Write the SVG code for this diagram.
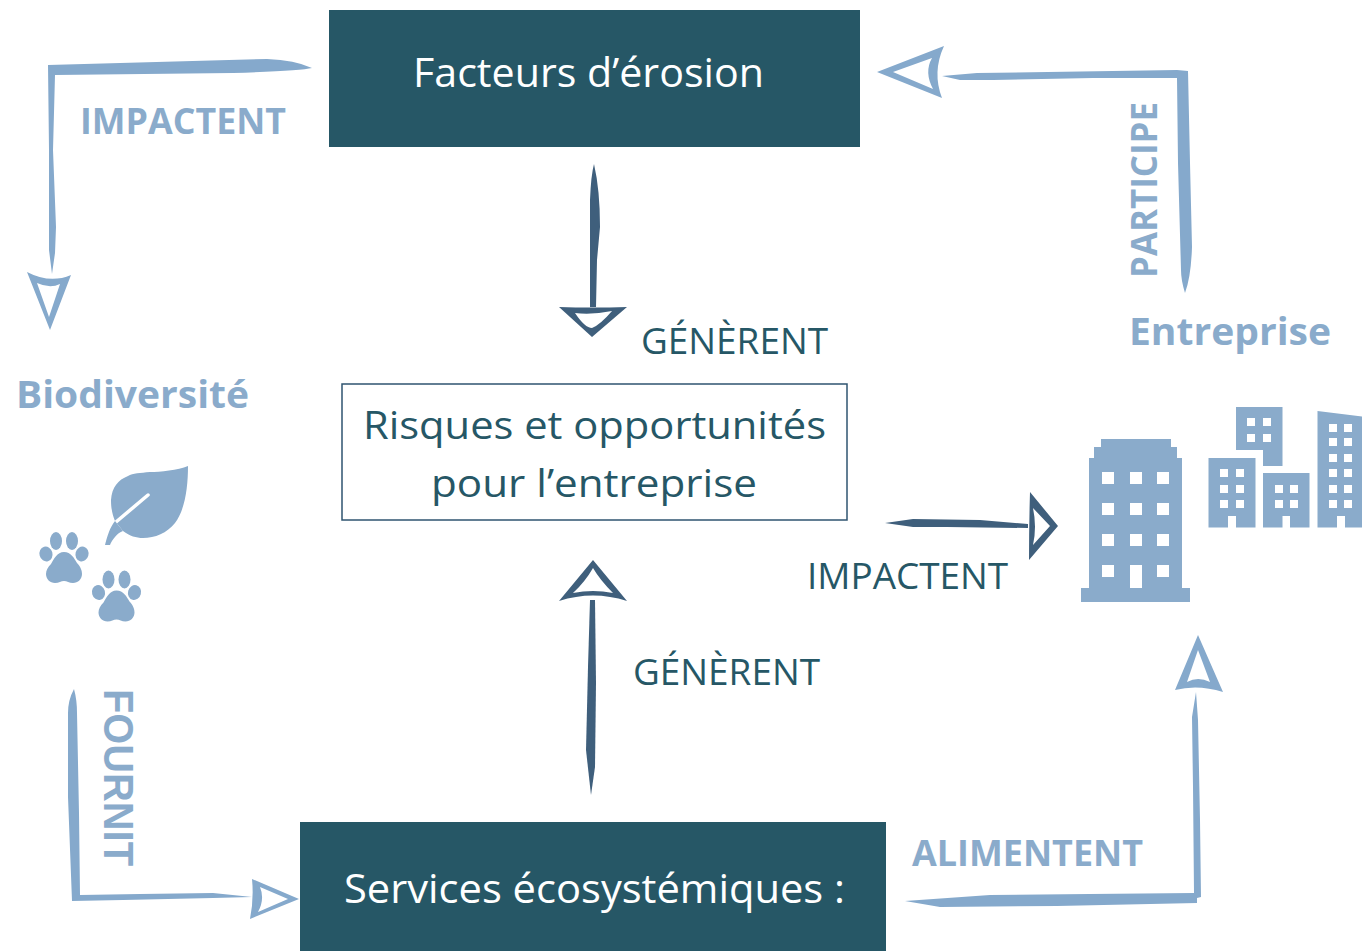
<svg xmlns="http://www.w3.org/2000/svg" xmlns:xlink="http://www.w3.org/1999/xlink" width="1362" height="951" viewBox="0 0 1362 951">
<style>
text{font-family:"Open Sans","Noto Sans",sans-serif}
.box{fill:#265766}
.wt{fill:#fff;font-size:41px}
.dk{fill:#265766;font-size:38px}
.lb{fill:#8aabcb;font-weight:700;font-size:36px}
.ic{fill:#8aabcb}
.w{fill:#fff}
.al{fill:#85a9cc;fill-rule:evenodd}
.ad{fill:#3f5f7c;fill-rule:evenodd}
</style>
<defs>
<g id="paw" class="ic">
<ellipse cx="56" cy="541" rx="6" ry="9"/><ellipse cx="72" cy="541" rx="6" ry="9"/>
<ellipse cx="46" cy="554" rx="6.5" ry="7.5" transform="rotate(-15 46 554)"/><ellipse cx="82" cy="554" rx="6.5" ry="7.5" transform="rotate(15 82 554)"/>
<path d="M64 552C71 552 74 558 77 563C81 567 82 571 82 574C82 579 78 583 73 583C69 583 67 581 64 581C61 581 59 583 55 583C50 583 46 579 46 574C46 570 48 567 51 564C54 559 57 552 64 552Z"/>
</g>
</defs>
<rect width="1362" height="951" fill="#fff"/>
<g id="connectors">
<path class="al" d="M48 65L267 59Q295 60 312 68Q300 71 233 73L55 75L53 150L56 227L55 253L52 274L49 250L49 150Z"/>
<path class="al" d="M27 272Q50 284 71 275L50 330ZM37 283L49 317L60 284Q50 289 37 283Z"/>
<path class="al" d="M942 76L977 73L1177 70L1188 71L1190 163L1192 247Q1191 277 1185 293Q1181 280 1181 270L1178 163L1177 78L1093 78L993 80L960 80Z"/>
<path class="al" d="M877 72L944 46Q932 72 942 98ZM893 72L933 89Q924 72 932 58Z"/>
<path class="ad" d="M594 164Q600 190 600 227L597 260L596 307L590 307L590 260L590 200Q591 175 594 164Z"/>
<path class="ad" d="M559 307Q592 308 627 307L592 337ZM575 313Q585 328 592 328Q600 325 612 311Q592 315 575 313Z"/>
<path class="ad" d="M593 560L627 601Q593 590 559 601ZM573 593Q593 589 613 593Q600 580 593 568Q585 582 573 593Z"/>
<path class="ad" d="M590 600L595 600L596 683L595 767L591 795L586 750L588 667Z"/>
<path class="ad" d="M885 523L913 519L980 520L1028 524L1028 528L947 527L913 527Z"/>
<path class="ad" d="M1030 492L1058 526L1029 560Q1029 526 1030 492ZM1033 508Q1037 527 1033 545L1050 526Z"/>
<path class="al" d="M74 689Q68 700 68 713L68 797L72 901L123 900L213 898L252 897L213 893L140 894L80 895L79 813L77 713Q77 700 74 689Z"/>
<path class="al" d="M252 879L299 899L250 919Q254 899 252 879ZM260 887Q265 899 258 912L288 899Z"/>
<path class="al" d="M1196 692L1192 717L1193 787L1194 893L1090 894L990 895L905 901L940 907L1057 906L1197 903L1197 898L1201 897L1200 820L1198 720Z"/>
<path class="al" d="M1198 635L1223 692Q1198 684 1175 690ZM1198 650L1187 682Q1198 676 1210 682Z"/>
</g>
<g id="node-facteurs"><rect class="box" x="329" y="10" width="531" height="137"/><text class="wt" x="413" y="87" textLength="351" lengthAdjust="spacingAndGlyphs">Facteurs d’érosion</text></g>
<g id="node-risques"><rect x="342" y="384" width="505" height="136" fill="#fff" stroke="#2f5470" stroke-width="1.5"/>
<text class="dk" x="363" y="439" textLength="463" lengthAdjust="spacingAndGlyphs">Risques et opportunités</text>
<text class="dk" x="431" y="497" textLength="326" lengthAdjust="spacingAndGlyphs">pour l’entreprise</text></g>
<g id="node-services"><rect class="box" x="300" y="822" width="586" height="129"/><text class="wt" x="344" y="903" textLength="501" lengthAdjust="spacingAndGlyphs">Services écosystémiques :</text></g>
<g id="node-biodiversite">
<text class="lb" x="16" y="408" textLength="233" lengthAdjust="spacingAndGlyphs" style="font-size:38px">Biodiversité</text>
<path class="ic" d="M188 466C178 470 160 472 150 472C140 473 133 473 128 476C118 480 112 487 111 500C111 510 113 516 115 521L123 531C130 536 136 538 143 538C155 538 167 533 175 523C185 510 188 487 188 466Z"/>
<path d="M148 495L116 522" stroke="#fff" stroke-width="3.5" stroke-linecap="round" fill="none"/>
<path class="ic" d="M115 521L123 531C117 533 112 540 110 545L105 545C107 537 110 527 115 521Z"/>
<use xlink:href="#paw" href="#paw"/>
<use xlink:href="#paw" href="#paw" x="52.5" y="38.5"/>
</g>
<g id="node-entreprise">
<text class="lb" x="1129" y="345" textLength="202" lengthAdjust="spacingAndGlyphs" style="font-size:38px">Entreprise</text>
<g class="ic">
<path d="M1081 602V588H1089V458H1094V447H1101V439H1171V447H1177V458H1182V588H1190V602Z"/>
<path d="M1236 407H1282.5V466H1263V450H1236Z"/>
<path d="M1208.500 458H1255.500V527.500H1236V516H1228V527.500H1208.500Z"/>
<path d="M1263 473H1309.500V527.500H1290V516H1282.500V527.500H1263Z"/>
<path d="M1317.500 411L1362 416.500V527.500H1345V516H1337V527.500H1317.500Z"/>
</g>
<g class="w">
<rect x="1102" y="472" width="12" height="12"/><rect x="1130" y="472" width="12" height="12"/><rect x="1157" y="472" width="12" height="12"/>
<rect x="1102" y="503" width="12" height="12"/><rect x="1130" y="503" width="12" height="12"/><rect x="1157" y="503" width="12" height="12"/>
<rect x="1102" y="534" width="12" height="12"/><rect x="1130" y="534" width="12" height="12"/><rect x="1157" y="534" width="12" height="12"/>
<rect x="1102" y="565" width="12" height="12"/><rect x="1130" y="565" width="12" height="23"/><rect x="1157" y="565" width="12" height="12"/>
<rect x="1247" y="418" width="8" height="8"/><rect x="1263" y="418" width="8" height="8"/><rect x="1247" y="434" width="8" height="8"/><rect x="1263" y="434" width="8" height="8"/>
<rect x="1220" y="469" width="8" height="8"/><rect x="1236" y="469" width="8" height="8"/><rect x="1220" y="485" width="8" height="8"/><rect x="1236" y="485" width="8" height="8"/><rect x="1220" y="500" width="8" height="8"/><rect x="1236" y="500" width="8" height="8"/>
<rect x="1275" y="485" width="8" height="8"/><rect x="1290" y="485" width="8" height="8"/><rect x="1275" y="500" width="8" height="8"/><rect x="1290" y="500" width="8" height="8"/>
<rect x="1329" y="424" width="8" height="8"/><rect x="1344" y="424" width="8" height="8"/><rect x="1329" y="438" width="8" height="8"/><rect x="1344" y="438" width="8" height="8"/><rect x="1329" y="454" width="8" height="8"/><rect x="1344" y="454" width="8" height="8"/><rect x="1329" y="469" width="8" height="8"/><rect x="1344" y="469" width="8" height="8"/><rect x="1329" y="485" width="8" height="8"/><rect x="1344" y="485" width="8" height="8"/><rect x="1329" y="500" width="8" height="8"/><rect x="1344" y="500" width="8" height="8"/>
</g>
</g>
<g id="labels">
<text class="lb" x="80" y="134" textLength="206" lengthAdjust="spacingAndGlyphs">IMPACTENT</text>
<text class="lb" x="912" y="866" textLength="231" lengthAdjust="spacingAndGlyphs">ALIMENTENT</text>
<text class="lb" transform="translate(1157 278) rotate(-90)" textLength="176" lengthAdjust="spacingAndGlyphs">PARTICIPE</text>
<text class="lb" transform="translate(104 689) rotate(90)" textLength="177" lengthAdjust="spacingAndGlyphs" style="font-family:'Liberation Sans',sans-serif;font-size:43px">FOURNIT</text>
<text class="dk" x="641" y="354" textLength="187" lengthAdjust="spacingAndGlyphs" style="font-size:36px">GÉNÈRENT</text>
<text class="dk" x="633" y="685" textLength="187" lengthAdjust="spacingAndGlyphs" style="font-size:36px">GÉNÈRENT</text>
<text class="dk" x="807" y="589" textLength="201" lengthAdjust="spacingAndGlyphs" style="font-size:36px">IMPACTENT</text>
</g>
</svg>
